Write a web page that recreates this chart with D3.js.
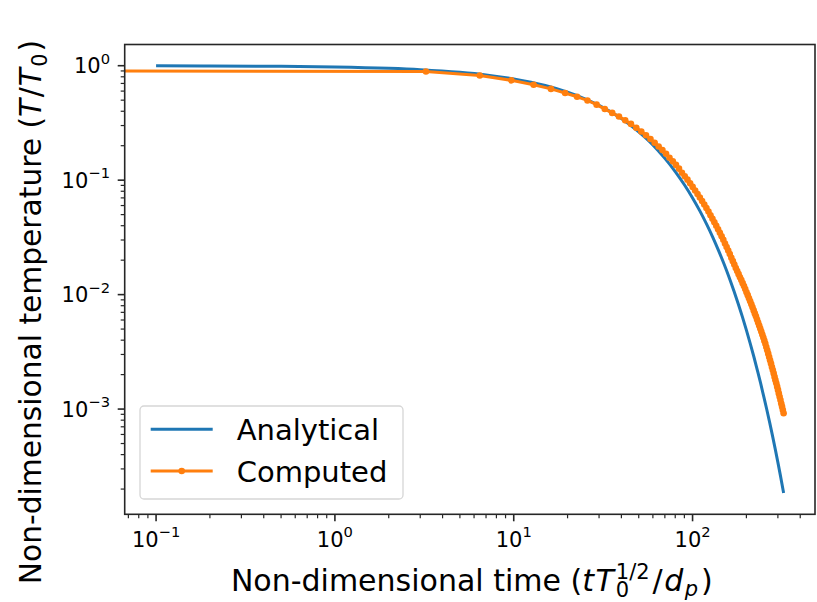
<!DOCTYPE html>
<html><head><meta charset="utf-8">
<script src="https://cdn.jsdelivr.net/npm/d3@7"></script>
<style>body{margin:0;background:#fff} svg{display:block}</style>
</head><body>
<svg id="chart" width="817" height="602"></svg>
<script>
// ---------------- data ----------------
const seriesNames = ["Analytical", "Computed"];

const analyticalTime = [0.1,0.2,0.5,1,2,3,5,7,10,15,20,25,30,40,50,60,70,80,90,100,110,120,130,140,150,160,170,180,190,200,210,220,230,240,250,260,270,280,290,300,310,323];
const analyticalTemp = [0.997,0.995,0.987,0.974,0.948,0.923,0.875,0.830,0.766,0.671,0.587,0.514,0.450,0.345,0.264,0.203,0.155,0.119,0.0912,0.0699,0.0536,0.0411,0.0315,0.0241,0.0185,0.0142,0.01086,0.00833,0.00639,0.00489,0.00375,0.00288,0.00220,0.00169,0.00129,0.000992,0.000761,0.000583,0.000447,0.000342,0.000262,0.000185];

const computedTime = [0,3.23,6.46,9.69,12.92,16.15,19.38,22.61,25.84,29.07,32.3,35.53,38.76,41.99,45.22,48.45,51.68,54.91,58.14,61.37,64.6,67.83,71.06,74.29,77.52,80.75,83.98,87.21,90.44,93.67,96.9,100.13,103.36,106.59,109.82,113.05,116.28,119.51,122.74,125.97,129.2,132.43,135.66,138.89,142.12,145.35,148.58,151.81,155.04,158.27,161.5,164.73,167.96,171.19,174.42,177.65,180.88,184.11,187.34,190.57,193.8,197.03,200.26,203.49,206.72,209.95,213.18,216.41,219.64,222.87,226.1,229.33,232.56,235.79,239.02,242.25,245.48,248.71,251.94,255.17,258.4,261.63,264.86,268.09,271.32,274.55,277.78,281.01,284.24,287.47,290.7,293.93,297.16,300.39,303.62,306.85,310.08,313.31,316.54,319.77,323];
const computedTemp = [0.904,0.891,0.822,0.745,0.682,0.627,0.578,0.535,0.497,0.457,0.418,0.387,0.360,0.333,0.310,0.287,0.266,0.247,0.229,0.212,0.197,0.183,0.170,0.157,0.146,0.136,0.126,0.116,0.108,0.101,0.0938,0.0873,0.0813,0.0757,0.0706,0.0658,0.0612,0.0570,0.0531,0.0494,0.0460,0.0429,0.0399,0.0372,0.0347,0.0323,0.0301,0.0280,0.0261,0.0243,0.0226,0.0210,0.0196,0.0183,0.0171,0.0161,0.0151,0.0142,0.0134,0.0126,0.0119,0.0112,0.0105,0.00989,0.00929,0.00875,0.00822,0.00774,0.00728,0.00685,0.00646,0.00607,0.00571,0.00537,0.00506,0.00475,0.00448,0.00421,0.00396,0.00373,0.00348,0.00326,0.00305,0.00285,0.00267,0.00250,0.00233,0.00219,0.00205,0.00191,0.00179,0.00168,0.00157,0.00147,0.00137,0.00128,0.00120,0.00112,0.00105,0.000982,0.000918];

const xTickValues = [0.1, 1, 10, 100];
const xTickExponents = ["\u22121", "0", "1", "2"];
const yTickValues = [1, 0.1, 0.01, 0.001];
const yTickExponents = ["0", "\u22121", "\u22122", "\u22123"];

// ---------------- layout / style ----------------
const FONT = "DejaVu Sans";
const COLORS = ["#1f77b4", "#ff7f0e"];
const plot = {left: 124.7, right: 815, top: 44.5, bottom: 514.3};
const svg = d3.select("#chart");
svg.append("rect").attr("width", 817).attr("height", 602).attr("fill", "#fff");

// matplotlib-like autoscale: 5% margin in log space
function logDomain(values) {
  const pos = values.filter(v => v > 0);
  const lo = Math.log10(d3.min(pos)), hi = Math.log10(d3.max(pos));
  const pad = (hi - lo) * 0.05;
  return [Math.pow(10, lo - pad), Math.pow(10, hi + pad)];
}
const x = d3.scaleLog().domain(logDomain(analyticalTime.concat(computedTime))).range([plot.left, plot.right]);
const y = d3.scaleLog().domain(logDomain(analyticalTemp.concat(computedTemp))).range([plot.bottom, plot.top]);

// clip
svg.append("defs").append("clipPath").attr("id", "clip")
  .append("rect").attr("x", plot.left).attr("y", plot.top)
  .attr("width", plot.right - plot.left).attr("height", plot.bottom - plot.top);

const px = t => t > 0 ? x(t) : plot.left - 100; // non-positive times run off the left edge
const lineGen = d3.line().x(d => px(d[0])).y(d => y(d[1])).curve(d3.curveMonotoneX);

const gData = svg.append("g").attr("clip-path", "url(#clip)");
const analytical = analyticalTime.map((t, i) => [t, analyticalTemp[i]]);
const computed = computedTime.map((t, i) => [t, computedTemp[i]]);

gData.append("path").datum(analytical).attr("d", lineGen)
  .attr("fill", "none").attr("stroke", COLORS[0]).attr("stroke-width", 3);
gData.append("path").datum(computed).attr("d", d3.line().x(d => px(d[0])).y(d => y(d[1])))
  .attr("fill", "none").attr("stroke", COLORS[1]).attr("stroke-width", 3).attr("stroke-linejoin", "round");
gData.selectAll("circle.m").data(computed.filter(d => d[0] > 0)).enter().append("circle")
  .attr("cx", d => x(d[0])).attr("cy", d => y(d[1])).attr("r", 3.3).attr("fill", COLORS[1]);

// ---------------- math text helper ----------------
function drawMath(parent, runs, x0, y0, anchor, rotate) {
  const g = parent.append("g").attr("transform", `translate(${x0},${y0})` + (rotate ? ` rotate(${rotate})` : ""));
  const inner = g.append("g");
  let cx = 0, stackStart = 0;
  runs.forEach(r => {
    const t = inner.append("text").text(r.t)
      .attr("font-family", FONT).attr("font-size", r.size)
      .attr("font-style", r.italic ? "italic" : "normal")
      .attr("y", r.dy || 0).attr("fill", "#000");
    const w = t.node().getComputedTextLength();
    if (r.stack) { t.attr("x", stackStart); cx = Math.max(cx, stackStart + w) + (r.kern || 0); }
    else { stackStart = cx; t.attr("x", cx); cx += w + (r.kern || 0); }
  });
  const shift = anchor === "middle" ? -cx / 2 : anchor === "end" ? -cx : 0;
  inner.attr("transform", `translate(${shift},0)`);
  return g;
}

// ---------------- ticks ----------------
const axisColor = "#262626";
const gAxes = svg.append("g");
function minorTicks(scale) {
  const [a, b] = scale.domain();
  const out = [];
  for (let e = Math.floor(Math.log10(a)); e <= Math.ceil(Math.log10(b)); e++)
    for (let k = 1; k < 10; k++) {
      const v = k * Math.pow(10, e);
      if (v >= a && v <= b) out.push({v, major: k === 1});
    }
  return out;
}
minorTicks(x).forEach(t => {
  gAxes.append("line").attr("x1", x(t.v)).attr("x2", x(t.v))
    .attr("y1", plot.bottom).attr("y2", plot.bottom + (t.major ? 7 : 4))
    .attr("stroke", axisColor).attr("stroke-width", t.major ? 1.6 : 1.2);
});
minorTicks(y).forEach(t => {
  gAxes.append("line").attr("y1", y(t.v)).attr("y2", y(t.v))
    .attr("x1", plot.left).attr("x2", plot.left - (t.major ? 7 : 4))
    .attr("stroke", axisColor).attr("stroke-width", t.major ? 1.6 : 1.2);
});
xTickValues.forEach((v, i) => {
  drawMath(gAxes, [{t: "10", size: 21}, {t: xTickExponents[i], size: 14.7, dy: -9.5}], x(v), 546.7, "middle");
});
yTickValues.forEach((v, i) => {
  drawMath(gAxes, [{t: "10", size: 21}, {t: yTickExponents[i], size: 14.7, dy: -9.5}], 110, y(v) + 7.5, "end");
});

// frame
gAxes.append("rect").attr("x", plot.left).attr("y", plot.top)
  .attr("width", plot.right - plot.left).attr("height", plot.bottom - plot.top)
  .attr("fill", "none").attr("stroke", axisColor).attr("stroke-width", 1.6);

// ---------------- axis labels ----------------
const LS = 30, LSs = LS * 0.7;
drawMath(svg, [
  {t: "Non-dimensional time (", size: LS},
  {t: "t", size: LS, italic: true, kern: 1.5},
  {t: "T", size: LS, italic: true, kern: 2},
  {t: "0", size: LSs, dy: 6},
  {t: "1/2", size: LSs, dy: -12, stack: true, kern: 3},
  {t: "/", size: LS, kern: 1.5},
  {t: "d", size: LS, italic: true, kern: 1.5},
  {t: "p", size: LSs, italic: true, dy: 5, kern: 3},
  {t: ")", size: LS}
], (plot.left + plot.right) / 2 + 2, 591, "middle");

const YS = 29.7, YSs = YS * 0.7;
drawMath(svg, [
  {t: "Non-dimensional temperature (", size: YS},
  {t: "T", size: YS, italic: true, kern: 1.5},
  {t: "/", size: YS, kern: 1},
  {t: "T", size: YS, italic: true, kern: 1.5},
  {t: "0", size: YSs, dy: 6, kern: 2},
  {t: ")", size: YS}
], 41, 312, "middle", -90);

// ---------------- legend ----------------
const gLeg = svg.append("g");
gLeg.append("rect").attr("x", 140).attr("y", 406).attr("width", 263).attr("height", 93)
  .attr("rx", 4).attr("fill", "#fff").attr("fill-opacity", 0.8)
  .attr("stroke", "#d6d6d6").attr("stroke-width", 1.3);
const legRows = [429.3, 471];
seriesNames.forEach((name, i) => {
  gLeg.append("line").attr("x1", 150.7).attr("x2", 212.7).attr("y1", legRows[i]).attr("y2", legRows[i])
    .attr("stroke", COLORS[i]).attr("stroke-width", 3);
  if (i === 1) gLeg.append("circle").attr("cx", 181.7).attr("cy", legRows[i]).attr("r", 3.3).attr("fill", COLORS[i]);
  gLeg.append("text").attr("x", 236.7).attr("y", legRows[i] + 10.5).text(name)
    .attr("font-family", FONT).attr("font-size", 29).attr("fill", "#000");
});
</script>
</body></html>
